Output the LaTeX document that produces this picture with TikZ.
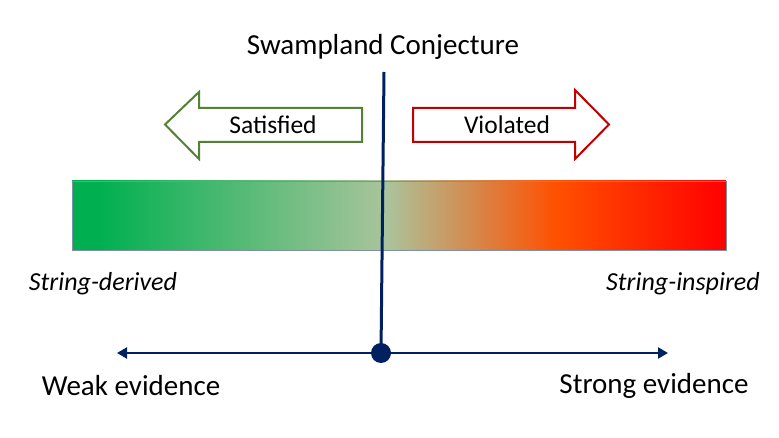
\documentclass[tikz,border=0pt]{standalone}
\usepackage{fontspec}
\setmainfont{Carlito}
\usetikzlibrary{arrows.meta}
\definecolor{navy}{RGB}{0,32,96}
\definecolor{cg}{RGB}{0,176,80}
\definecolor{cm}{RGB}{170,196,156}
\definecolor{co}{RGB}{255,80,0}
\definecolor{cr}{RGB}{255,0,0}
\definecolor{sgreen}{RGB}{84,130,53}
\definecolor{sred}{RGB}{192,0,0}
\definecolor{barborder}{RGB}{127,143,169}
\pgfdeclarehorizontalshading{barshade}{100bp}{color(0bp)=(cg); color(27bp)=(cg); color(49bp)=(cm); color(62bp)=(co); color(75bp)=(cr); color(100bp)=(cr)}
\tikzset{
  big/.style={font=\fontsize{29}{34}\selectfont, inner sep=0pt},
  mid/.style={font=\fontsize{25.5}{30}\selectfont, inner sep=0pt},
  ital/.style={font=\fontsize{26}{30}\selectfont\itshape, inner sep=0pt},
  fatarrow/.style={line width=2pt, fill=white, line join=miter},
  axisline/.style={navy, line width=2.2pt, {Triangle[length=10pt,width=11pt]}-{Triangle[length=10pt,width=11pt]}},
}
\begin{document}
\begin{tikzpicture}[x=1pt,y=-1pt]
\useasboundingbox (0,0) rectangle (779,438);
% gradient bar
\shade[shading=barshade, draw=barborder, line width=0.8pt] (72,181) rectangle (726,250);
% big arrows
\draw[fatarrow, draw=sgreen] (362,108) -- (199,108) -- (199,92) -- (165,124.5) -- (199,159) -- (199,142) -- (362,142) -- cycle;
\draw[fatarrow, draw=sred] (413,108) -- (575,108) -- (575,90) -- (609,124.5) -- (575,159) -- (575,142) -- (413,142) -- cycle;
\node[mid] (sat) at (273,125) {Satisfied};
\node[mid] (vio) at (507,125) {Violated};
% title
\node[big] (title) at (383,47) {Swampland Conjecture};
% axis
\coordinate (ctr) at (381,353);
\coordinate (axl) at (117,353);
\coordinate (axr) at (668,353);
\coordinate (vtop) at (384,72);
\draw[axisline] (axl) -- (axr);
\draw[navy, line width=3pt] (vtop) -- (ctr);
\fill[navy] (ctr) circle (10);
% labels
\node[ital] (sd) at (103,284) {String-derived};
\node[ital] (si) at (683,284) {String-inspired};
\node[big] (weak) at (131,386) {Weak evidence};
\node[big] (strong) at (654,386) {Strong evidence};
\end{tikzpicture}
\end{document}
